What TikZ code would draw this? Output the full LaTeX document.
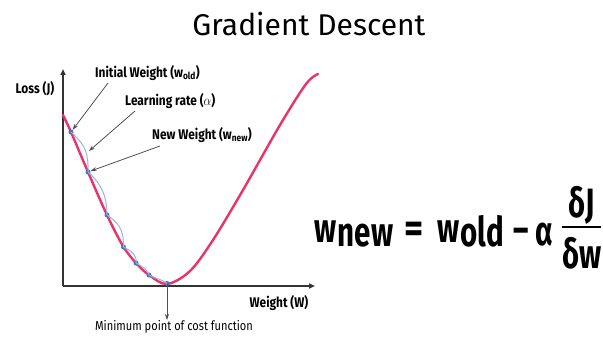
\documentclass[tikz,border=0pt]{standalone}
\usepackage{fontspec}
\usepackage{graphicx}
\setmainfont{Fira Sans}
\usetikzlibrary{arrows.meta,calc}
\definecolor{curvered}{HTML}{E8336B}
\definecolor{dotblue}{HTML}{4472C4}
\definecolor{pathblue}{HTML}{9DB3D9}
\definecolor{axisgray}{HTML}{333333}
\definecolor{arrowgray}{HTML}{505050}
\newcommand\sx[2][0.85]{\scalebox{#1}[1]{#2}}
\newcommand\eqtxt[1]{\scalebox{0.72}[1]{\fontsize{41}{41}\selectfont\bfseries #1}}
\begin{document}
\begin{tikzpicture}[x=1pt,y=-1pt,
  lbl/.style={inner sep=0pt,font=\fontsize{14}{14}\selectfont\bfseries},
  eqpart/.style={inner sep=0pt,anchor=base west},
  pointer/.style={arrowgray,line width=0.8pt,-{Stealth[length=6pt,width=4pt]}},
  axisline/.style={axisgray,line width=1.6pt,-{Triangle[length=6pt,width=5pt]}},
  wdot/.style={circle,fill=dotblue,inner sep=0pt,minimum size=5pt}]
\useasboundingbox (0,0) rectangle (603,338);
% title
\node[inner sep=0pt,font=\fontsize{30}{30}\selectfont] (title) at (309,24) {Gradient Descent};
% axes
\coordinate (O) at (63,286);
\coordinate (ytop) at (63,69);
\coordinate (xend) at (315,286);
\draw[axisline] (O) -- (ytop);
\draw[axisline] (O) -- (xend);
\node[lbl] (loss) at (35,89) {\sx{Loss (J)}};
\node[lbl] (wlab) at (279,303) {\sx{Weight (W)}};
% cost curve
\draw[curvered,line width=2.4pt,line cap=round] plot[smooth,tension=0.55] coordinates
 {(63,115) (71,132) (88,172) (107,215) (123,246) (136,263) (149,275) (167,284) (190,271) (213,240) (243,190) (280,125) (306,84) (318,74)};
% dots
\node[wdot] (d1) at (71,132) {};
\node[wdot] (d2) at (88,172) {};
\node[wdot] (d3) at (107,215) {};
\node[wdot] (d4) at (123.5,247) {};
\node[wdot] (d5) at (136,263) {};
\node[wdot] (d6) at (149,275) {};
\node[wdot] (d7) at (167,283.5) {};
% descent path
\draw[pathblue,line width=1pt]
 (d1.center) .. controls (80,141) and (89,147) .. (d2.center)
 (d2.center) .. controls (98,181) and (107,192) .. (d3.center)
 (d3.center) .. controls (117,222) and (124,228) .. (d4.center)
 (d4.center) .. controls (131,251) and (137,254) .. (d5.center)
 (d5.center) .. controls (143,267) and (147,269) .. (d6.center)
 (d6.center) .. controls (156,279) and (162,279) .. (d7.center);
% labels with pointers
\node[lbl,anchor=west] (initw) at (95,73) {\sx{Initial Weight (w\textsubscript{old})}};
\node[lbl,anchor=west] (lrate) at (125,101) {\sx{Learning rate ($\alpha$)}};
\node[lbl,anchor=west] (neww) at (152,135) {\sx{New Weight (w\textsubscript{new})}};
\coordinate (lrtip) at (89,151);
\draw[pointer] (108,83) -- (d1);
\draw[pointer] (135,111) -- (lrtip);
\draw[pointer] (160,146) -- (d2);
% minimum
\coordinate (mintip) at (167,320);
\draw[pointer] (d7.center) -- (mintip);
\node[inner sep=0pt,font=\fontsize{13}{13}\selectfont] (minlab) at (174,327) {\sx{Minimum point of cost function}};
% equation
\node[eqpart] (ew1) at (314,242) {\eqtxt{w}};
\node[eqpart] (enew) at ($(ew1.base east)+(1,4)$) {\eqtxt{new}};
\node[eqpart] (eeq) at ($(enew.base east)+(11,-4)$) {\scalebox{1.25}[1]{\eqtxt{=}}};
\node[eqpart] (ew2) at ($(eeq.base east)+(13,0)$) {\eqtxt{w}};
\node[eqpart] (eold) at ($(ew2.base east)+(1,4)$) {\eqtxt{old}};
\node[eqpart] (emin) at ($(eold.base east)+(9,-3)$) {\eqtxt{–}};
\node[eqpart] (ealpha) at ($(emin.base east)+(6,2)$) {\eqtxt{α}};
\coordinate (fl) at ($(ealpha.base east)+(9,-18)$);
\coordinate (fr) at (601,227);
\draw[black,line width=2.6pt] (fl) -- (fr);
\node[inner sep=0pt,anchor=base] (enum) at ($(fl)!0.5!(fr)+(0,-10)$) {\eqtxt{δJ}};
\node[inner sep=0pt,anchor=base] (eden) at ($(fl)!0.5!(fr)+(0,41)$) {\eqtxt{δw}};
\end{tikzpicture}
\end{document}
